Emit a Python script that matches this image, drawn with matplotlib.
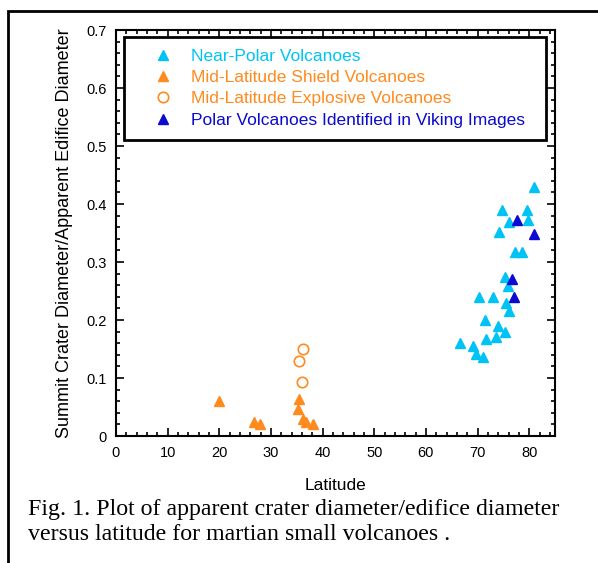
import matplotlib
matplotlib.use("Agg")
import matplotlib.pyplot as plt
from matplotlib.patches import Rectangle
from matplotlib.ticker import MultipleLocator

# near-polar volcanoes (cyan)
near_polar_lat = [81.0, 74.7, 79.6, 76.1, 79.8, 74.2, 77.3, 78.7, 75.3, 75.9,
                  70.3, 73.0, 75.6, 76.1, 71.4, 73.9, 75.3, 71.6, 73.6, 66.6,
                  69.1, 69.7, 71.1]
near_polar_ratio = [0.429, 0.389, 0.389, 0.369, 0.373, 0.352, 0.318, 0.318, 0.275, 0.259,
                    0.240, 0.240, 0.230, 0.215, 0.200, 0.190, 0.180, 0.167, 0.170, 0.160,
                    0.155, 0.142, 0.137]

# mid-latitude shield volcanoes (orange triangles)
shield_lat = [20.0, 35.5, 35.2, 26.7, 27.9, 36.3, 36.7, 38.1]
shield_ratio = [0.060, 0.063, 0.047, 0.025, 0.021, 0.029, 0.025, 0.021]

# mid-latitude explosive volcanoes (open orange circles)
explosive_lat = [36.3, 35.4, 36.0]
explosive_ratio = [0.150, 0.130, 0.093]

# polar volcanoes identified in Viking images (dark blue)
viking_lat = [77.6, 81.0, 76.7, 77.0]
viking_ratio = [0.373, 0.349, 0.271, 0.240]

labels = ["Near-Polar Volcanoes", "Mid-Latitude Shield Volcanoes",
          "Mid-Latitude Explosive Volcanoes", "Polar Volcanoes Identified in Viking Images"]

CYAN = "#00c3f5"
ORANGE = "#ff8a1e"
DARK = "#0a0ad0"

plt.rcParams["font.family"] = ["Liberation Sans", "DejaVu Sans"]

fig = plt.figure(figsize=(5.98, 5.63), dpi=100)
ax = fig.add_axes([116 / 598, 1 - 436 / 563, 439 / 598, 406 / 563])

ax.plot(near_polar_lat, near_polar_ratio, ls="none", marker="^", ms=6.5,
        color=CYAN, mec=CYAN, label=labels[0])
ax.plot(shield_lat, shield_ratio, ls="none", marker="^", ms=6.5,
        color=ORANGE, mec=ORANGE, label=labels[1])
ax.plot(explosive_lat, explosive_ratio, ls="none", marker="o", ms=7.5,
        mfc="none", mec=ORANGE, mew=1.2, label=labels[2])
ax.plot(viking_lat, viking_ratio, ls="none", marker="^", ms=6.5,
        color=DARK, mec=DARK, label=labels[3])

ax.set_xlim(0, 85)
ax.set_ylim(0, 0.7)
ax.xaxis.set_major_locator(MultipleLocator(10))
ax.xaxis.set_minor_locator(MultipleLocator(2))
ax.yaxis.set_major_locator(MultipleLocator(0.1))
ax.yaxis.set_minor_locator(MultipleLocator(0.02))
ax.set_xticks(range(0, 90, 10), [str(v) for v in range(0, 90, 10)])
ax.set_yticks([0, 0.1, 0.2, 0.3, 0.4, 0.5, 0.6, 0.7],
              ["0", "0.1", "0.2", "0.3", "0.4", "0.5", "0.6", "0.7"])
ax.tick_params(which="both", direction="in", top=True, right=True, width=1.2,
               labelsize=10.5, pad=7)
ax.tick_params(which="major", length=6)
ax.tick_params(which="minor", length=3)
for sp in ax.spines.values():
    sp.set_linewidth(1.5)

ax.set_xlabel("Latitude", fontsize=12.5, labelpad=13)
ax.set_ylabel("Summit Crater Diameter/Apparent Edifice Diameter", fontsize=13, labelpad=9)

leg = ax.legend(loc="upper left", bbox_to_anchor=(8 / 439, 0, 422 / 439, 1 - 6.7 / 406),
                mode="expand", borderaxespad=0, fontsize=12.5, fancybox=False,
                framealpha=1, edgecolor="black", borderpad=0.68, labelspacing=0.36,
                handlelength=3.13, handletextpad=0.05,
                labelcolor=[CYAN, ORANGE, ORANGE, DARK])
leg.get_frame().set_linewidth(2)

# caption below the plot, in a serif face
fig.text(28 / 598, 1 - 522 / 563,
         "Fig. 1. Plot of apparent crater diameter/edifice diameter\n"
         "versus latitude for martian small volcanoes .",
         family=["Liberation Serif", "DejaVu Serif"], fontsize=17.2, va="center",
         linespacing=1.22)

# outer frame, cut off at the right and bottom edges
fig.add_artist(Rectangle((8 / 598, -0.1), 1.2, 1.1 - 11 / 563,
                         transform=fig.transFigure, fill=False, lw=2,
                         ec="black", clip_on=False))

fig.savefig("out.png", dpi=100)
